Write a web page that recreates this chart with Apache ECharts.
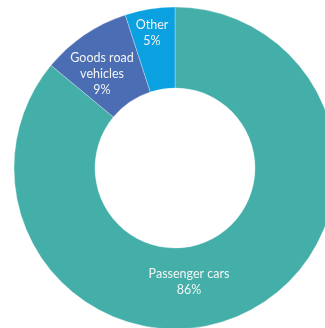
<!DOCTYPE html>
<html>
<head>
<meta charset="utf-8">
<script src="https://cdn.jsdelivr.net/npm/echarts@6/dist/echarts.min.js"></script>
<style>
  html, body { margin: 0; padding: 0; background: #fff; }
  #chart { width: 325px; height: 328px; }
</style>
</head>
<body>
<div id="chart"></div>
<script>
// data
var categories = ['Passenger cars', 'Goods road\nvehicles', 'Other'];
var shares = [86, 9, 5];
var colors = ['#44AFA9', '#4A6DB3', '#0BA0DF'];

// label centres (label placement only, not the marks)
var labelPos = [[189, 282], [102, 74], [152, 33]];

var chart = echarts.init(document.getElementById('chart'));
chart.setOption({
    animation: false,
    series: [{
        type: 'pie',
        center: [175, 168],
        radius: [80, 161],
        startAngle: 90,
        clockwise: true,
        silent: true,
        itemStyle: {
            borderColor: 'rgba(255,255,255,0.6)',
            borderWidth: 0.5
        },
        label: {
            show: true,
            position: 'inside',
            color: '#f4f4f4',
            fontFamily: 'Lato',
            fontSize: 12.5,
            lineHeight: 16,
            align: 'center',
            formatter: function (p) {
                return p.name + '\n' + p.value + '%';
            }
        },
        labelLine: { show: false },
        labelLayout: function (params) {
            var pos = labelPos[params.dataIndex];
            return { x: pos[0], y: pos[1], align: 'center', verticalAlign: 'middle' };
        },
        data: categories.map(function (c, i) {
            return { name: c, value: shares[i], itemStyle: { color: colors[i] } };
        })
    }]
});
</script>
</body>
</html>
